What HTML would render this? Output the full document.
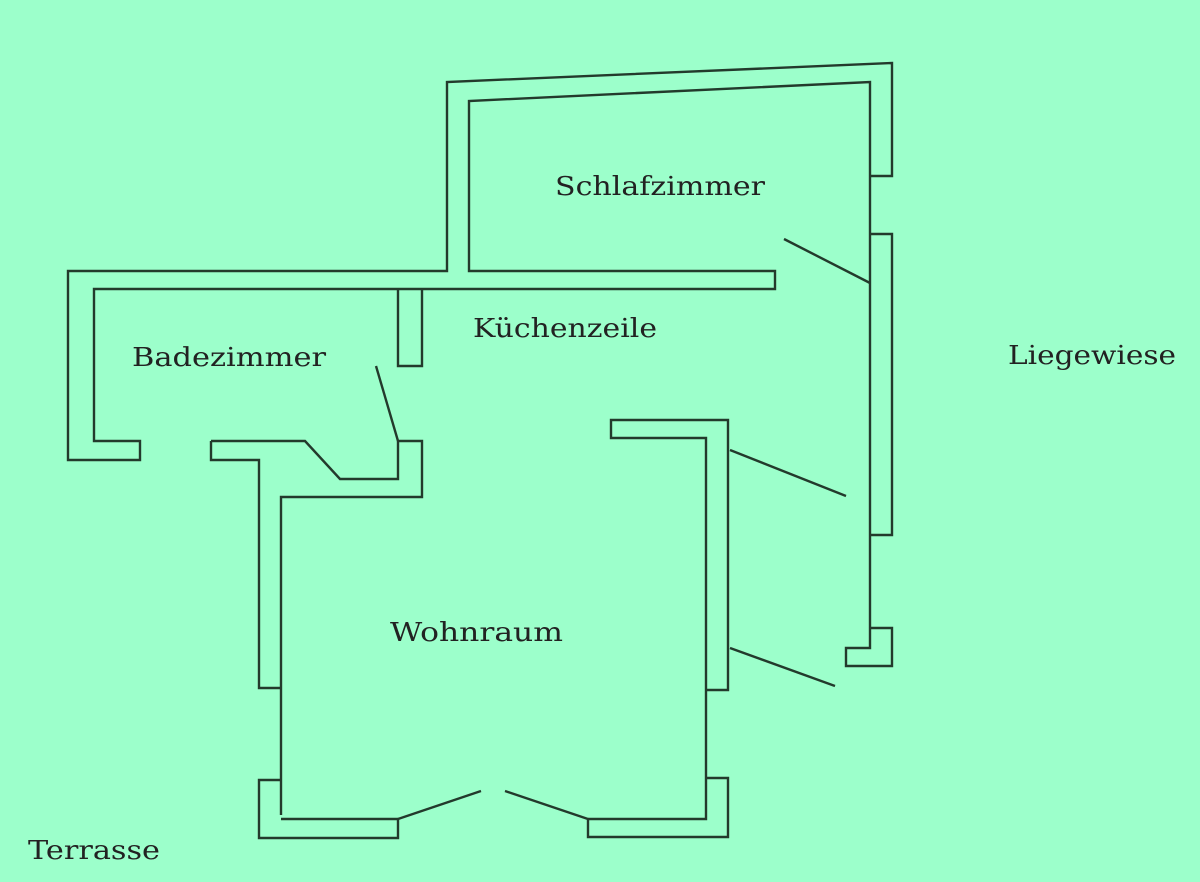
<!DOCTYPE html>
<html><head><meta charset="utf-8"><style>html,body{margin:0;padding:0;background:#9cffcb;}svg{display:block}</style></head>
<body>
<svg width="1200" height="882" viewBox="0 0 1200 882" xmlns="http://www.w3.org/2000/svg">
<rect width="1200" height="882" fill="#9cffcb"/>
<g fill="none" stroke="#233a2c" stroke-width="2.4" stroke-linejoin="miter">
<polyline points="870,176 892,176 892,63 447,82 447,271 68,271 68,460 140,460 140,441 94,441 94,289 775,289 775,271 469,271 469,101 870,82 870,648 846,648 846,666 892,666 892,628 870,628"/>
<polyline points="870,234 892,234 892,535 870,535"/>
<polyline points="398,289 398,366 422,366 422,289"/>
<polyline points="211,441 211,460 259,460 259,688 281,688"/>
<polyline points="211,441 305,441 340,479 398,479 398,441 422,441 422,497 281,497 281,815"/>
<polyline points="281,780 259,780 259,838 398,838 398,819 281,819"/>
<polyline points="588,819 588,837 728,837 728,778 706,778"/>
<polyline points="588,819 706,819 706,438 611,438 611,420 728,420 728,690 706,690"/>
<line x1="376" y1="366" x2="398" y2="441"/>
<line x1="398" y1="819" x2="481" y2="791"/>
<line x1="505" y1="791" x2="588" y2="819"/>
<line x1="730" y1="450" x2="846" y2="496"/>
<line x1="730" y1="648" x2="835" y2="686"/>
<line x1="784" y1="239" x2="870" y2="283"/>
</g>
<g font-family="'DejaVu Serif','Liberation Serif',serif" font-size="26" fill="#222">
<text x="555" y="195" textLength="210" lengthAdjust="spacingAndGlyphs">Schlafzimmer</text>
<text x="473" y="337" textLength="184" lengthAdjust="spacingAndGlyphs">Küchenzeile</text>
<text x="132" y="366" textLength="194" lengthAdjust="spacingAndGlyphs">Badezimmer</text>
<text x="1008" y="364" textLength="168" lengthAdjust="spacingAndGlyphs">Liegewiese</text>
<text x="390" y="641" textLength="173" lengthAdjust="spacingAndGlyphs">Wohnraum</text>
<text x="28" y="859" textLength="132" lengthAdjust="spacingAndGlyphs">Terrasse</text>
</g>
</svg>
</body></html>
